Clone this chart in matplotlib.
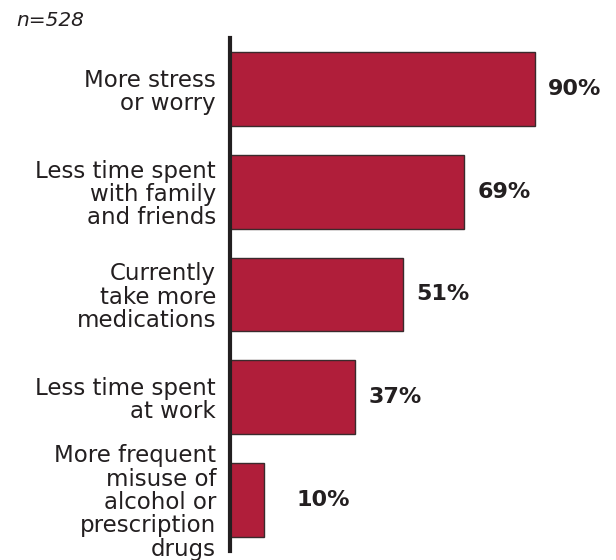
import matplotlib.pyplot as plt

categorias = [
    "More stress\nor worry",
    "Less time spent\nwith family\nand friends",
    "Currently\ntake more\nmedications",
    "Less time spent\nat work",
    "More frequent\nmisuse of\nalcohol or\nprescription\ndrugs",
]
valores = [90, 69, 51, 37, 10]
rotulos = ["90%", "69%", "51%", "37%", "10%"]

cor_barra = "#B01E3A"
cor_texto = "#231F20"

fig = plt.figure(figsize=(6.16, 5.6), dpi=100)
ax = fig.add_axes([230 / 616, 9 / 560, 386 / 616, 513 / 560])

pos = list(range(len(categorias)))
ax.barh(pos, valores, height=0.72, color=cor_barra, edgecolor="#3a2a2c", linewidth=1)

# rotulos de valor (o menor fica um pouco mais afastado, como no original)
for y, v, r in zip(pos, valores, rotulos):
    x = max(v, 15.5) + 4
    ax.text(x, y, r, va="center", ha="left", fontsize=16, fontweight="bold", color=cor_texto)

ax.set_xlim(0, 114)
ax.set_ylim(4.5, -0.5)
ax.set_yticks(pos)
ax.set_yticklabels(categorias, fontsize=16.5, color=cor_texto, linespacing=1.02)
ax.tick_params(axis="y", length=0, pad=10)
ax.set_xticks([])

for lado in ["top", "right", "bottom"]:
    ax.spines[lado].set_visible(False)
ax.spines["left"].set_linewidth(3)
ax.spines["left"].set_color(cor_texto)

fig.text(16 / 616, 1 - 21 / 560, "n=528", fontsize=14.5, style="italic", color=cor_texto, va="center", ha="left")

fig.savefig("out.png", dpi=100)
